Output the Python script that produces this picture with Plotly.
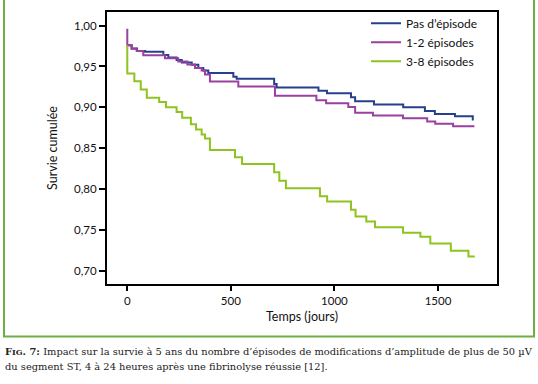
import plotly.graph_objects as go

# ---- data ----
t_pas = [0, 21, 47, 86, 174, 198, 238, 263, 311, 343, 367, 391, 512, 528, 709, 721,
         923, 964, 1080, 1100, 1191, 1332, 1437, 1485, 1582, 1668, 1673]
s_pas = [0.976, 0.972, 0.969, 0.968, 0.964, 0.961, 0.958, 0.955, 0.952, 0.948, 0.945,
         0.942, 0.9375, 0.935, 0.9286, 0.9242, 0.9203, 0.9173, 0.9125, 0.9076, 0.9036,
         0.900, 0.8955, 0.8919, 0.889, 0.8852, 0.8852]

t_12 = [0, 0, 21, 45, 77, 182, 246, 290, 327, 359, 375, 399, 536, 713, 913, 960,
        1067, 1100, 1186, 1331, 1448, 1487, 1573, 1676]
s_12 = [0.996, 0.976, 0.9718, 0.969, 0.9637, 0.960, 0.956, 0.9524, 0.9482, 0.9452,
        0.9403, 0.9315, 0.9254, 0.9143, 0.9088, 0.905, 0.9004, 0.8935, 0.890, 0.8867,
        0.8826, 0.880, 0.877, 0.877]

t_38 = [0, 0, 34, 65, 94, 154, 187, 238, 265, 307, 332, 359, 375, 399, 520, 554, 709,
        734, 766, 930, 965, 1080, 1102, 1154, 1196, 1331, 1415, 1463, 1562, 1647, 1678]
s_38 = [0.976, 0.9415, 0.9318, 0.9218, 0.9116, 0.9064, 0.900, 0.8943, 0.8874, 0.8794,
        0.8729, 0.8668, 0.862, 0.848, 0.839, 0.8307, 0.8208, 0.8104, 0.801, 0.7914,
        0.785, 0.7748, 0.7666, 0.7603, 0.7533, 0.7466, 0.7418, 0.7336, 0.7248, 0.7175,
        0.7175]

series_names = ["Pas d’épisode", "1-2 épisodes", "3-8 épisodes"]
series_colors = ["#26408c", "#9b3fa0", "#8fc31f"]

x_tick_vals = [0, 500, 1000, 1500]
x_tick_labels = ["0", "500", "1000", "1500"]
y_tick_vals = [0.70, 0.75, 0.80, 0.85, 0.90, 0.95, 1.00]
y_tick_labels = ["0,70", "0,75", "0,80", "0,85", "0,90", "0,95", "1,00"]

caption_line1 = ("<b>F<span style='font-size:8px'>IG</span>. 7:</b> Impact sur la survie à 5 ans "
                 "du nombre d’épisodes de modifications d’amplitude de plus de 50 µV")
caption_line2 = "du segment ST, 4 à 24 heures après une fibrinolyse réussie [12]."

# ---- figure ----
fig = go.Figure()
for t, s, name, col in [(t_pas, s_pas, series_names[0], series_colors[0]),
                        (t_12, s_12, series_names[1], series_colors[1]),
                        (t_38, s_38, series_names[2], series_colors[2])]:
    fig.add_trace(go.Scatter(x=t, y=s, mode="lines", name=name,
                             line=dict(color=col, width=2, shape="hv")))

L, R, T, B = 107, 41, 9, 100
W, H = 538, 384
pw, ph = W - L - R, H - T - B

def px_x(p):
    return (p - L) / pw

def px_y(p):
    return (H - B - p) / ph

sans = "Lato, Open Sans, sans-serif"
tickfont = dict(family=sans, size=11.5, color="#111")
fig.update_layout(
    width=W, height=H, autosize=False,
    margin=dict(l=L, r=R, t=T, b=B, pad=0),
    paper_bgcolor="white", plot_bgcolor="white",
    showlegend=True,
    legend=dict(x=px_x(366), y=1.012, xanchor="left", yanchor="top",
                bgcolor="rgba(0,0,0,0)", borderwidth=0,
                font=dict(family=sans, size=12, color="#111")),
    xaxis=dict(range=[-98, 1785], showgrid=False, zeroline=False,
               showline=True, linecolor="black", linewidth=2, mirror=True,
               ticks="outside", ticklen=5, tickwidth=2, tickcolor="black",
               tickvals=x_tick_vals, ticktext=x_tick_labels, tickfont=tickfont,
               title=dict(text="Temps (jours)", standoff=6,
                          font=dict(family=sans, size=12.5, color="#111"))),
    yaxis=dict(range=[0.684, 1.0166], showgrid=False, zeroline=False,
               showline=True, linecolor="black", linewidth=2, mirror=True,
               ticks="outside", ticklen=6, tickwidth=2, tickcolor="black",
               tickvals=y_tick_vals, ticktext=y_tick_labels, tickfont=tickfont,
               title=dict(text="Survie cumulée", standoff=14,
                          font=dict(family=sans, size=12.5, color="#111"))),
    shapes=[dict(type="rect", xref="paper", yref="paper",
                 x0=px_x(4), x1=px_x(534), y0=px_y(337), y1=px_y(-5),
                 line=dict(color="#6fae45", width=2), fillcolor="rgba(0,0,0,0)", layer="below")],
    annotations=[
        dict(text=caption_line1, xref="paper", yref="paper", x=px_x(3), y=px_y(352),
             xanchor="left", yanchor="middle", showarrow=False,
             font=dict(family="DejaVu Serif, serif", size=9.9, color="#222")),
        dict(text=caption_line2, xref="paper", yref="paper", x=px_x(3), y=px_y(367),
             xanchor="left", yanchor="middle", showarrow=False,
             font=dict(family="DejaVu Serif, serif", size=9.9, color="#222")),
    ],
)

fig.write_html("out.html", config={"displayModeBar": False},
               post_script="document.body.style.margin='0';")
